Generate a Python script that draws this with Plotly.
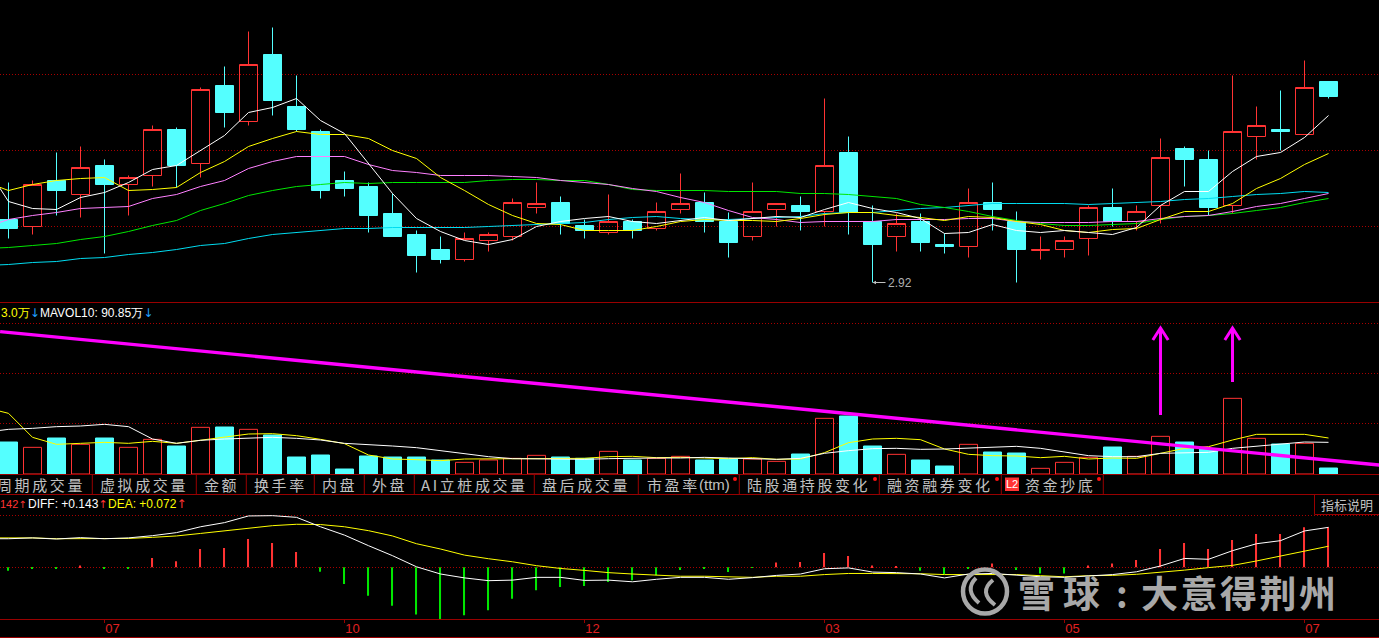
import plotly.graph_objects as go

# ---- data ----
periods = list(range(56))
month_positions = [4, 14, 24, 34, 44, 54]
month_labels = ["07", "10", "12", "03", "05", "07"]

high = [3.92,3.94,4.22,4.28,4.15,3.99,4.49,4.47,4.87,5.08,5.43,5.47,4.99,4.45,4.03,3.92,3.81,3.44,3.38,3.42,
        3.42,3.76,3.92,3.78,3.55,3.80,3.55,3.72,4.01,3.82,3.62,3.92,3.71,3.78,4.76,4.38,3.69,3.61,3.61,3.41,
        3.86,3.92,3.63,3.38,3.38,3.69,3.86,3.69,4.36,4.28,4.24,4.99,4.68,4.84,5.14,4.93]
low = [3.36,3.40,3.59,3.57,3.21,3.59,3.88,3.87,3.97,4.47,4.49,4.59,4.43,3.76,3.78,3.42,3.38,3.02,3.11,3.13,
       3.23,3.34,3.61,3.40,3.36,3.40,3.36,3.44,3.61,3.42,3.17,3.34,3.48,3.44,3.48,3.40,2.92,3.23,3.23,3.21,
       3.17,3.44,2.92,3.15,3.17,3.19,3.48,3.44,3.51,3.88,3.59,3.61,4.15,4.24,4.40,4.76]
open_ = [3.55,3.48,3.94,3.80,4.09,3.90,3.99,4.45,4.11,4.89,4.53,5.20,4.68,4.43,3.94,3.88,3.61,3.40,3.25,3.15,
         3.34,3.38,3.67,3.72,3.49,3.42,3.53,3.46,3.65,3.72,3.53,3.38,3.65,3.69,3.63,4.22,3.53,3.38,3.53,3.30,
         3.28,3.72,3.53,3.24,3.25,3.36,3.67,3.53,3.69,4.26,4.15,3.69,4.38,4.45,4.40,4.93]
close = [3.46,3.90,3.84,4.07,3.90,3.97,4.45,4.09,4.85,4.62,5.10,4.74,4.45,3.84,3.86,3.59,3.38,3.19,3.15,3.36,
         3.40,3.72,3.71,3.51,3.44,3.53,3.44,3.63,3.71,3.53,3.32,3.63,3.71,3.63,4.09,3.62,3.30,3.51,3.32,3.28,
         3.72,3.65,3.25,3.25,3.34,3.67,3.53,3.63,4.17,4.15,3.67,4.43,4.49,4.43,4.87,4.78]

# moving averages start one period before the first visible candle
line_x = list(range(-1, 56))
ma5 = [4.10,3.73,3.66,3.65,3.77,3.82,3.92,4.05,4.09,4.24,4.39,4.62,4.67,4.76,4.54,4.41,4.11,3.81,3.56,3.43,
       3.34,3.30,3.35,3.48,3.53,3.56,3.58,3.53,3.51,3.54,3.57,3.54,3.56,3.58,3.57,3.65,3.72,3.66,3.62,3.56,
       3.41,3.42,3.50,3.44,3.42,3.44,3.42,3.40,3.47,3.69,3.83,3.83,4.03,4.18,4.22,4.37,4.59]
ma10 = [3.93,3.84,3.90,3.94,3.96,3.97,3.84,3.85,3.87,4.02,4.13,4.28,4.36,4.43,4.40,4.40,4.36,4.24,4.16,3.97,
        3.84,3.70,3.59,3.51,3.50,3.44,3.44,3.44,3.48,3.53,3.55,3.54,3.54,3.53,3.56,3.60,3.62,3.62,3.59,3.57,
        3.54,3.58,3.57,3.53,3.50,3.44,3.42,3.45,3.46,3.55,3.63,3.63,3.71,3.86,3.96,4.10,4.21]
ma20 = [3.47,3.55,3.59,3.62,3.66,3.67,3.68,3.76,3.80,3.88,3.94,4.06,4.13,4.18,4.18,4.18,4.10,4.04,4.02,3.99,
        3.99,3.99,3.98,3.97,3.94,3.92,3.90,3.86,3.83,3.77,3.72,3.64,3.57,3.55,3.52,3.53,3.53,3.53,3.55,3.55,
        3.55,3.56,3.56,3.53,3.52,3.52,3.52,3.53,3.53,3.56,3.58,3.59,3.63,3.68,3.71,3.76,3.81]
ma30 = [3.26,3.27,3.29,3.31,3.35,3.38,3.43,3.49,3.54,3.64,3.71,3.79,3.84,3.88,3.90,3.92,3.91,3.92,3.92,3.92,
        3.92,3.94,3.95,3.95,3.94,3.94,3.90,3.85,3.84,3.84,3.84,3.83,3.83,3.83,3.81,3.81,3.80,3.78,3.76,3.70,
        3.67,3.63,3.58,3.54,3.51,3.49,3.49,3.50,3.51,3.55,3.58,3.59,3.61,3.64,3.67,3.72,3.76]
ma60 = [3.09,3.10,3.12,3.13,3.16,3.17,3.20,3.22,3.25,3.29,3.31,3.36,3.40,3.42,3.44,3.46,3.46,3.47,3.47,3.47,
        3.47,3.48,3.49,3.50,3.51,3.52,3.55,3.57,3.58,3.56,3.55,3.55,3.56,3.57,3.58,3.61,3.62,3.62,3.64,3.66,
        3.67,3.69,3.71,3.71,3.71,3.71,3.70,3.71,3.72,3.73,3.75,3.76,3.78,3.80,3.81,3.83,3.82]

volume = [96,80,108,89,108,80,104,84,140,141,134,117,51,57,15,54,51,51,42,35,42,47,56,51,47,68,42,47,53,42,45,45,38,60,
          167,174,84,59,42,24,89,66,63,17,35,50,81,53,113,96,75,227,107,90,92,18]
mavol5 = [200,182,110,89,92,95,92,98,92,102,111,120,121,115,104,91,57,45,43,40,
          45,45,45,45,45,47,52,53,49,50,48,46,49,44,45,64,94,105,107,103,
          75,59,55,54,49,53,45,48,47,62,77,82,102,119,119,119,108]
mavol10 = [125,134,137,142,144,149,142,105,92,101,105,108,110,107,102,92,89,84,79,70,
           59,52,46,45,44,44,46,48,48,48,50,48,47,44,47,62,70,76,77,74,
           75,77,81,83,77,67,55,52,52,62,64,65,77,84,89,96,95]
trend_x = [-0.35, 57.12]
trend_y = [427, 27]
arrow_x = [48, 51]
arrow_tail = [177, 276]
arrow_head = [438, 438]

macd = [-0.012,-0.006,-0.005,0.007,-0.004,-0.005,0.034,0.022,0.066,0.070,0.102,0.088,0.055,-0.016,-0.060,-0.102,-0.138,-0.170,-0.186,
        -0.172,-0.154,-0.113,-0.082,-0.071,-0.067,-0.053,-0.046,-0.028,-0.010,-0.006,-0.017,-0.002,0.017,0.019,0.052,0.041,0.007,0.005,-0.012,
        -0.024,-0.005,0.014,-0.010,-0.022,-0.022,0.007,0.014,0.026,0.066,0.088,0.066,0.098,0.120,0.120,0.144,0.144]
diff = [0.103,0.103,0.106,0.102,0.107,0.103,0.106,0.114,0.125,0.146,0.161,0.185,0.186,0.180,0.146,0.116,0.078,0.042,0.002,-0.024,
        -0.038,-0.048,-0.046,-0.036,-0.036,-0.047,-0.046,-0.052,-0.043,-0.036,-0.036,-0.043,-0.037,-0.029,-0.024,-0.005,-0.002,-0.017,-0.019,-0.024,
        -0.038,-0.024,-0.022,-0.029,-0.034,-0.036,-0.030,-0.026,-0.016,0.005,0.032,0.029,0.060,0.085,0.096,0.131,0.144]
dea = [0.106,0.106,0.106,0.103,0.104,0.104,0.104,0.108,0.113,0.122,0.131,0.140,0.150,0.155,0.154,0.146,0.132,0.113,0.085,0.066,
       0.044,0.031,0.020,0.006,-0.004,-0.011,-0.019,-0.024,-0.029,-0.032,-0.032,-0.034,-0.036,-0.032,-0.032,-0.026,-0.022,-0.022,-0.022,-0.023,
       -0.026,-0.026,-0.024,-0.026,-0.030,-0.034,-0.030,-0.029,-0.025,-0.018,-0.010,-0.001,0.007,0.023,0.040,0.058,0.076]

tabs = [("周期成交量", -3), ("虚拟成交量", 100), ("金额", 204), ("换手率", 254), ("内盘", 322), ("外盘", 372),
        ("AI立桩成交量", 421), ("盘后成交量", 542), ("市盈率", 647), ("陆股通持股变化", 747),
        ("融资融券变化", 887), ("资金抄底", 1025)]
tab_seps = [92.3, 196.3, 246.3, 314.3, 364.3, 414.3, 534.3, 638.3, 739.3, 879.3, 1001.3, 1103.3]
tab_dots = [735, 875, 997, 1099]

# ---- styling ----
W, H = 1379, 638
RED = "#ff3333"
CYAN = "#54ffff"
FRAME = "#990000"
GRID = "#a80000"
TXT = "Liberation Sans"
CJK = "Noto Sans CJK SC"
MARK = "#a8a8a8"


def px(x):
    return x / W


def py(y):
    return 1 - y / H


def pline(x0, y0, x1, y1, color=FRAME, width=1):
    return dict(type="line", xref="paper", yref="paper", x0=px(x0), y0=py(y0), x1=px(x1), y1=py(y1),
                line=dict(color=color, width=width), layer="above")


def note(x, y, text, color="#c0c0c0", size=12, family=TXT, anchor="left", weight=None):
    font = dict(color=color, size=size, family=family)
    if weight:
        font["weight"] = weight
    return dict(xref="paper", yref="paper", x=px(x), y=py(y), text=text, showarrow=False,
                xanchor=anchor, yanchor="middle", font=font, borderpad=0, borderwidth=0)


def arrow(ch, color, size=12):
    return f'<span style="color:{color};font-family:DejaVu Sans;font-size:{size}px">{ch}</span>'


fig = go.Figure()

# price panel
fig.add_trace(go.Candlestick(
    x=periods, open=open_, high=high, low=low, close=close, yaxis="y", whiskerwidth=0,
    increasing=dict(line=dict(color=RED, width=1), fillcolor="rgba(0,0,0,0)"),
    decreasing=dict(line=dict(color=CYAN, width=1), fillcolor=CYAN),
))
for values, color in [(ma60, "#00dcf0"), (ma30, "#00e600"), (ma20, "#ff80ff"), (ma10, "#ffff00"), (ma5, "#ffffff")]:
    fig.add_trace(go.Scatter(x=line_x, y=values, yaxis="y", mode="lines", line=dict(color=color, width=1)))

# volume panel
up = [c >= o for c, o in zip(close, open_)]
fig.add_trace(go.Bar(
    x=periods, y=volume, yaxis="y2", width=0.75,
    marker=dict(color=["rgba(0,0,0,0)" if u else CYAN for u in up],
                line=dict(color=[RED if u else CYAN for u in up], width=1)),
))
fig.add_trace(go.Scatter(x=line_x, y=mavol5, yaxis="y2", mode="lines", line=dict(color="#ffff00", width=1)))
fig.add_trace(go.Scatter(x=line_x, y=mavol10, yaxis="y2", mode="lines", line=dict(color="#ffffff", width=1)))
fig.add_trace(go.Scatter(x=trend_x, y=trend_y, yaxis="y2", mode="lines", line=dict(color="#ff00ff", width=3.4)))
for ax_, tail, head in zip(arrow_x, arrow_tail, arrow_head):
    fig.add_trace(go.Scatter(x=[ax_, ax_], y=[tail, head], yaxis="y2", mode="lines",
                             line=dict(color="#ff00ff", width=3)))
    fig.add_trace(go.Scatter(x=[ax_ - 0.32, ax_, ax_ + 0.32], y=[head - 36, head, head - 36], yaxis="y2",
                             mode="lines", line=dict(color="#ff00ff", width=3)))

# MACD panel
fig.add_trace(go.Bar(x=periods, y=macd, yaxis="y3", width=0.045,
                     marker=dict(color=[RED if v >= 0 else "#00e600" for v in macd], line=dict(width=0))))
fig.add_trace(go.Scatter(x=line_x, y=dea, yaxis="y3", mode="lines", line=dict(color="#ffff00", width=1)))
fig.add_trace(go.Scatter(x=line_x, y=diff, yaxis="y3", mode="lines", line=dict(color="#ffffff", width=1)))

# chrome
shapes = [pline(0, y, W, y) for y in (302.5, 474.5, 494.5, 619.5, 637.5)]
shapes += [pline(x, 475, x, 494) for x in tab_seps]
shapes += [pline(1314.5, 494, 1314.5, 514.5), pline(1314.5, 514.5, W, 514.5)]
shapes.append(dict(type="rect", xref="paper", yref="paper", x0=px(1005), x1=px(1019), y0=py(491), y1=py(477.5),
                   fillcolor="#ff3333", line=dict(width=0), layer="above"))
for x in tab_dots:
    shapes.append(dict(type="circle", xref="paper", yref="paper", x0=px(x - 2), x1=px(x + 2), y0=py(481), y1=py(477),
                       fillcolor="#ff1010", line=dict(width=0), layer="above"))
# watermark logo
shapes.append(dict(type="circle", xref="paper", yref="paper", x0=px(963), x1=px(1007), y0=py(613.5), y1=py(569.5),
                   line=dict(color=MARK, width=4.5), layer="above"))
logo_paths = [[(976, 578), (964, 590), (979, 603)], [(993, 580), (978, 592), (995, 605)]]
for (a, b, c) in logo_paths:
    path = f"M {px(a[0])} {py(a[1])} Q {px(b[0])} {py(b[1])} {px(c[0])} {py(c[1])}"
    shapes.append(dict(type="path", xref="paper", yref="paper", path=path,
                       line=dict(color=MARK, width=4), layer="above"))

BLUE_ARROW = "#20a0ff"
annos = []
annos.append(note(1, 313, "3.0万" + arrow("↓", BLUE_ARROW), color="#ffff00", size=12))
annos.append(note(40, 313, "MAVOL10: 90.85万" + arrow("↓", BLUE_ARROW), color="#ffffff", size=12))
annos.append(note(0, 504, "142" + arrow("↑", RED, 10), color=RED, size=11))
annos.append(note(27.5, 504, "DIFF: +0.143" + arrow("↑", RED, 11), color="#ffffff", size=12))
annos.append(note(108, 504, "DEA: +0.072" + arrow("↑", RED), color="#ffff00", size=12))
for label, x in tabs:
    annos.append(note(x, 484, f'<span style="letter-spacing:2.6px">{label}</span>', size=15, family=CJK))
annos.append(note(699, 484, "(ttm)", size=15, family=TXT))
annos.append(note(1012, 484, "L2", color="#ffffff", size=11, anchor="center"))
annos.append(note(1347, 504, "指标说明", size=13, family=CJK, anchor="center"))
annos.append(dict(x=36, y=2.92, xref="x", yref="y", text="2.92", ax=13, ay=0, xanchor="left",
                  showarrow=True, arrowhead=2, arrowsize=0.7, arrowwidth=1, arrowcolor="#c0c0c0",
                  font=dict(color="#b0b0b0", size=12, family=TXT)))
annos.append(note(1018, 592, '<span style="letter-spacing:8px">雪球</span>', color=MARK, size=37, family=CJK, weight=700))
annos.append(note(1122, 592, ":", color=MARK, size=36, family=CJK, anchor="center", weight=700))
annos.append(note(1141, 592, '<span style="letter-spacing:2.5px">大意得荆州</span>', color=MARK, size=37, family=CJK, weight=700))


def yaxis(domain, rng, ticks):
    return dict(domain=domain, range=rng, tickvals=ticks, showticklabels=False, ticks="", showline=False,
                zeroline=False, showgrid=True, gridcolor=GRID, griddash="1px,2px", gridwidth=1, fixedrange=True,
                automargin=False)


fig.update_layout(
    width=W, height=H, margin=dict(l=0, r=0, t=0, b=0), autosize=False,
    paper_bgcolor="#000000", plot_bgcolor="#000000", showlegend=False,
    boxgap=0.25, boxgroupgap=0, barmode="overlay",
    hovermode=False, shapes=shapes, annotations=annos,
    xaxis=dict(domain=[0, 1], range=[-0.3542, 57.1042], anchor="y3", rangeslider=dict(visible=False),
               showgrid=False, zeroline=False, showline=False, tickmode="array", automargin=False,
               tickvals=month_positions, ticktext=month_labels, ticks="outside", ticklen=3, tickcolor=FRAME,
               tickfont=dict(color="#e02020", size=13, family=TXT), ticklabelshift=8, ticklabelstandoff=-6,
               fixedrange=True),
    yaxis=yaxis([py(302), 1], [2.725, 5.745], [3.48, 4.24, 5.00]),
    yaxis2=yaxis([py(474), py(303)], [0, 513], [152, 302, 452]),
    yaxis3=yaxis([py(619.3), py(494)], [-0.187, 0.264], [0, 0.187]),
)

fig.write_html("out.html", config=dict(displayModeBar=False),
               post_script="document.body.style.margin='0';document.body.style.overflow='hidden';")
